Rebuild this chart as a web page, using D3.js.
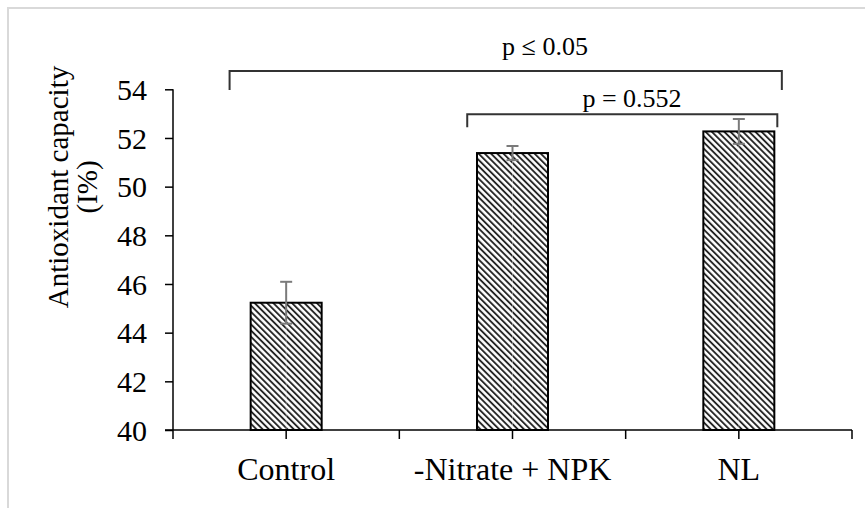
<!DOCTYPE html>
<html>
<head>
<meta charset="utf-8">
<script src="https://cdn.jsdelivr.net/npm/d3@7"></script>
<style>
  html, body { margin: 0; padding: 0; background: #fff; }
  svg text { font-family: "Liberation Serif", "Times New Roman", "DejaVu Serif", serif; fill: #000; }
</style>
</head>
<body>
<div id="container"></div>
<script>
var width = 865,
    height = 508;

// data
var categories = ["Control", "-Nitrate + NPK", "NL"];
var values = [45.23, 51.38, 52.27];
var errors = [0.86, 0.29, 0.51];
var yTicks = [40, 42, 44, 46, 48, 50, 52, 54];
var comparisons = [
    { from: "Control", to: "NL", label: "p \u2264 0.05" },
    { from: "-Nitrate + NPK", to: "NL", label: "p = 0.552" }
];

var plotLeft = 173, plotRight = 852, plotTop = 89.3, plotBottom = 430;
var serif = "'Liberation Serif', 'Times New Roman', serif";

var svg = d3.select("#container").append("svg")
    .attr("width", width)
    .attr("height", height);

// outer frame
svg.append("rect")
    .attr("x", 8).attr("y", 8)
    .attr("width", 900).attr("height", 600)
    .attr("fill", "none")
    .attr("stroke", "#d9d9d9")
    .attr("stroke-width", 2);

var defs = svg.append("defs");
var pat = defs.append("pattern")
    .attr("id", "hatch")
    .attr("patternUnits", "userSpaceOnUse")
    .attr("width", 4.4).attr("height", 4.4)
    .attr("patternTransform", "rotate(-45)");
pat.append("rect").attr("width", 4.4).attr("height", 4.4).attr("fill", "#fff");
pat.append("line")
    .attr("x1", 1).attr("y1", 0).attr("x2", 1).attr("y2", 4.4)
    .attr("stroke", "#1a1a1a").attr("stroke-width", 1.8);

var x = d3.scaleBand().domain(categories).range([plotLeft, plotRight]);
var y = d3.scaleLinear().domain([40, 54]).range([plotBottom, plotTop]);
var bw = x.bandwidth();
var barW = 71;

// bars
svg.selectAll(".bar")
    .data(categories)
    .enter().append("rect")
    .attr("class", "bar")
    .attr("x", (d) => x(d) + bw / 2 - barW / 2)
    .attr("y", (d, i) => y(values[i]))
    .attr("width", barW)
    .attr("height", (d, i) => y(40) - y(values[i]))
    .attr("fill", "url(#hatch)")
    .attr("stroke", "#000")
    .attr("stroke-width", 2);

// faint white centre line through the hatch
svg.selectAll(".cline")
    .data(categories)
    .enter().append("line")
    .attr("x1", (d) => x(d) + bw / 2).attr("x2", (d) => x(d) + bw / 2)
    .attr("y1", (d, i) => y(values[i]) + 1)
    .attr("y2", y(40) - 1)
    .attr("stroke", "#fff")
    .attr("stroke-opacity", 0.4)
    .attr("stroke-width", 1);

// error bars
var eb = svg.selectAll(".err")
    .data(categories)
    .enter().append("g")
    .attr("class", "err")
    .attr("stroke", "#7a7a7a")
    .attr("stroke-width", 2);
eb.append("line")
    .attr("x1", (d) => x(d) + bw / 2).attr("x2", (d) => x(d) + bw / 2)
    .attr("y1", (d, i) => y(values[i] + errors[i]))
    .attr("y2", (d, i) => y(values[i] - errors[i]));
eb.append("line")
    .attr("x1", (d) => x(d) + bw / 2 - 6).attr("x2", (d) => x(d) + bw / 2 + 6)
    .attr("y1", (d, i) => y(values[i] + errors[i]))
    .attr("y2", (d, i) => y(values[i] + errors[i]));
eb.append("line")
    .attr("x1", (d) => x(d) + bw / 2 - 6).attr("x2", (d) => x(d) + bw / 2 + 6)
    .attr("y1", (d, i) => y(values[i] - errors[i]))
    .attr("y2", (d, i) => y(values[i] - errors[i]));

// y axis
var yAxis = svg.append("g")
    .attr("transform", "translate(" + plotLeft + ",0)")
    .call(d3.axisLeft(y).tickValues(yTicks).tickSize(8).tickPadding(18));
yAxis.select(".domain").attr("stroke", "#000").attr("stroke-width", 1.5)
    .attr("d", "M0," + plotTop + "V" + plotBottom);
yAxis.selectAll(".tick line").attr("stroke", "#000").attr("stroke-width", 1.5);
yAxis.selectAll(".tick text")
    .attr("fill", "#000")
    .attr("dy", "0.34em")
    .style("font-family", serif)
    .style("font-size", "30px");

// x axis, ticks at band edges and centres
var xTickPos = [];
categories.forEach((c) => { xTickPos.push(x(c)); xTickPos.push(x(c) + bw / 2); });
xTickPos.push(plotRight);
svg.append("line")
    .attr("x1", plotLeft - 8).attr("x2", plotRight)
    .attr("y1", plotBottom).attr("y2", plotBottom)
    .attr("stroke", "#000").attr("stroke-width", 1.5);
svg.selectAll(".xtick")
    .data(xTickPos)
    .enter().append("line")
    .attr("x1", (d) => d).attr("x2", (d) => d)
    .attr("y1", plotBottom).attr("y2", plotBottom + 9)
    .attr("stroke", "#000").attr("stroke-width", 1.5);
svg.selectAll(".xlabel")
    .data(categories)
    .enter().append("text")
    .attr("x", (d) => x(d) + bw / 2)
    .attr("y", 480)
    .attr("text-anchor", "middle")
    .style("font-family", serif)
    .style("font-size", "32px")
    .text((d) => d);

// y title
var yt = svg.append("text")
    .attr("transform", "translate(58,187) rotate(-90)")
    .attr("text-anchor", "middle")
    .style("font-family", serif)
    .style("font-size", "29px");
yt.append("tspan").attr("x", 0).attr("dy", "0.34em").text("Antioxidant capacity");
yt.append("tspan").attr("x", 0).attr("dy", "1.0em").text("(I%)");

// significance brackets
var brLayout = [
    { x1: 0.25, x2: 0.69, yLine: 71, yEnd: 90, tx: 545, ty: 55 },
    { x1: 0.30, x2: 0.67, yLine: 114.3, yEnd: 127.3, tx: 632, ty: 107 }
];
comparisons.forEach((c, i) => {
    var L = brLayout[i];
    var xa = x(c.from) + bw * L.x1;
    var xb = x(c.to) + bw * L.x2;
    svg.append("path")
        .attr("d", "M" + xa + "," + L.yEnd + "V" + L.yLine + "H" + xb + "V" + L.yEnd)
        .attr("fill", "none")
        .attr("stroke", "#333")
        .attr("stroke-width", 2);
    svg.append("text")
        .attr("x", L.tx).attr("y", L.ty)
        .attr("text-anchor", "middle")
        .style("font-family", serif)
        .style("font-size", "26px")
        .text(c.label);
});
</script>
</body>
</html>
